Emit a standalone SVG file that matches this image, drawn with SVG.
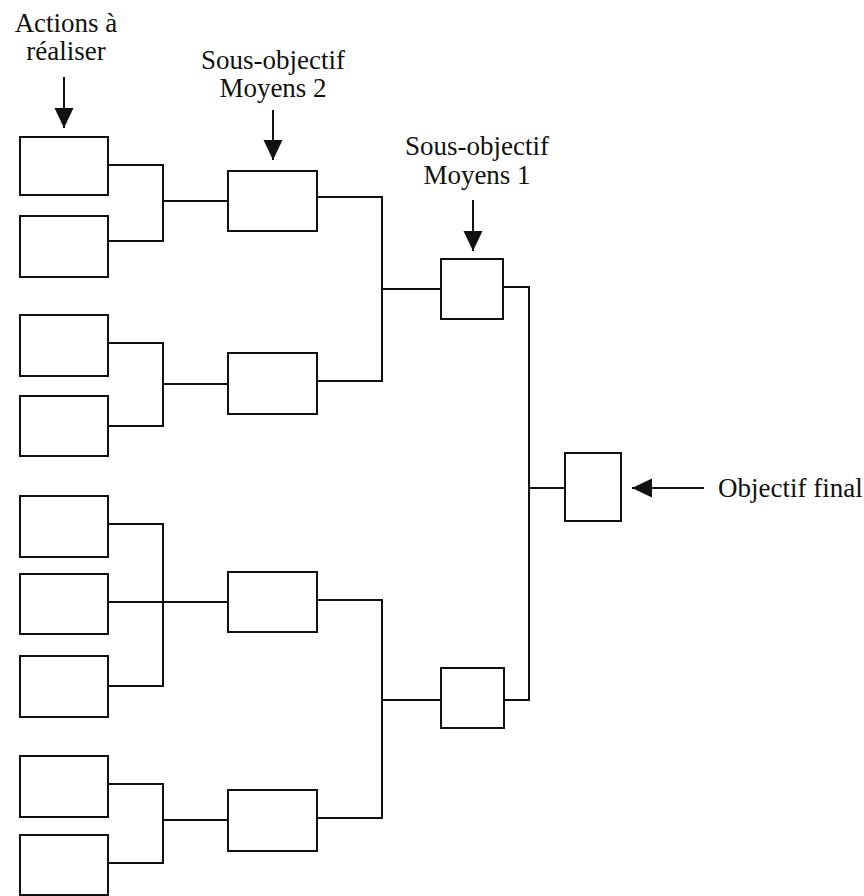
<svg xmlns="http://www.w3.org/2000/svg" width="864" height="896" viewBox="0 0 864 896">
<defs>
<style>
.box{fill:#fff;stroke:#111;stroke-width:2}
.ln{fill:none;stroke:#111;stroke-width:2}
.lbl{font-family:"Liberation Serif","Times New Roman",serif;font-size:27px;fill:#111}
</style>
<marker id="ahb" viewBox="0 0 20 20" refX="20" refY="10" markerWidth="20" markerHeight="20" markerUnits="userSpaceOnUse" orient="auto">
<path d="M0,0.5 L20,10 L0,19.5 z" fill="#111"/>
</marker>
</defs>
<rect width="864" height="896" fill="#fff"/>

<g id="connectors">
<path class="ln" d="M108,165 H163 V241 H108 M163,201 H228"/>
<path class="ln" d="M108,343 H163 V426 H108 M163,384 H228"/>
<path class="ln" d="M108,524 H163 V686 H108 M108,602 H228"/>
<path class="ln" d="M108,784 H163 V863 H108 M163,820 H228"/>
<path class="ln" d="M317,197 H382 V381 H317 M382,289 H441"/>
<path class="ln" d="M317,600 H382 V818 H317 M382,700 H441"/>
<path class="ln" d="M503,287 H529 V700 H504 M529,488 H565"/>
<line class="ln" x1="64" y1="77" x2="64" y2="128" marker-end="url(#ahb)"/>
<line class="ln" x1="273" y1="110" x2="273" y2="160" marker-end="url(#ahb)"/>
<line class="ln" x1="473" y1="200" x2="473" y2="251" marker-end="url(#ahb)"/>
<line class="ln" x1="704" y1="488" x2="632" y2="488" marker-end="url(#ahb)"/>
</g>

<g id="actions">
<rect id="a1" class="box" x="20" y="137" width="88" height="58"/>
<rect id="a2" class="box" x="20" y="216" width="88" height="61"/>
<rect id="a3" class="box" x="20" y="315" width="88" height="61"/>
<rect id="a4" class="box" x="20" y="396" width="88" height="60"/>
<rect id="a5" class="box" x="20" y="496" width="88" height="61"/>
<rect id="a6" class="box" x="20" y="574" width="88" height="60"/>
<rect id="a7" class="box" x="20" y="656" width="88" height="61"/>
<rect id="a8" class="box" x="20" y="756" width="88" height="61"/>
<rect id="a9" class="box" x="20" y="835" width="88" height="60"/>
</g>
<g id="moyens2">
<rect id="m2a" class="box" x="228" y="171" width="89" height="60"/>
<rect id="m2b" class="box" x="228" y="353" width="89" height="61"/>
<rect id="m2c" class="box" x="228" y="572" width="89" height="60"/>
<rect id="m2d" class="box" x="228" y="790" width="89" height="61"/>
</g>
<g id="moyens1">
<rect id="m1a" class="box" x="441" y="259" width="62" height="60"/>
<rect id="m1b" class="box" x="441" y="668" width="63" height="60"/>
</g>
<g id="final">
<rect id="f" class="box" x="565" y="453" width="56" height="68"/>
</g>

<g id="labels">
<text class="lbl" x="66" y="32" text-anchor="middle">Actions à</text>
<text class="lbl" x="66" y="60" text-anchor="middle">réaliser</text>
<text class="lbl" x="273" y="69" text-anchor="middle">Sous-objectif</text>
<text class="lbl" x="273" y="97" text-anchor="middle">Moyens 2</text>
<text class="lbl" x="477" y="155" text-anchor="middle">Sous-objectif</text>
<text class="lbl" x="477" y="184" text-anchor="middle">Moyens 1</text>
<text class="lbl" x="718" y="497">Objectif final</text>
</g>
</svg>
